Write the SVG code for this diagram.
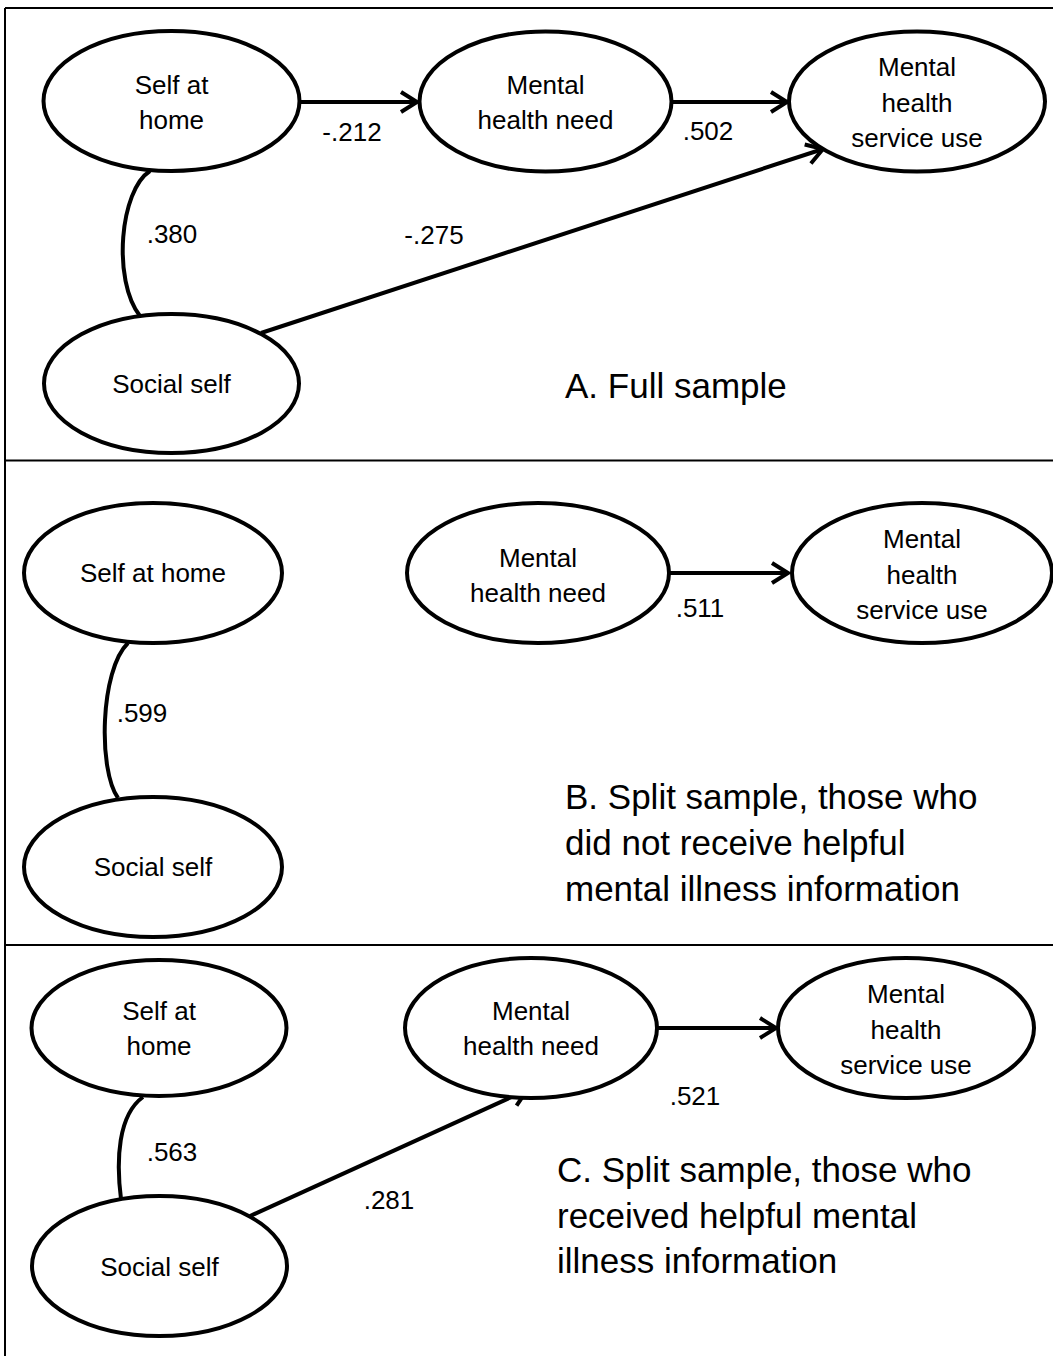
<svg xmlns="http://www.w3.org/2000/svg" width="1053" height="1356" viewBox="0 0 1053 1356">
<style>
.frame{stroke:#000;stroke-width:2;fill:none}
.node ellipse{fill:#fff;stroke:#000;stroke-width:4}
text{font-family:"Liberation Sans",Arial,sans-serif;fill:#000}
.lbl{font-size:26px;text-anchor:middle}
.num{font-size:26px;text-anchor:middle}
.title{font-size:35px}
.conn path,.conn line{stroke:#000;stroke-width:4;fill:none}
</style>
<defs>
<marker id="arr" markerUnits="userSpaceOnUse" markerWidth="24" markerHeight="26" refX="19" refY="12" orient="auto" viewBox="0 0 24 26">
<path d="M3,2 L19,12 L3,22" fill="none" stroke="#000" stroke-width="4"/>
</marker>
</defs>
<rect width="1053" height="1356" fill="#fff"/>
<g id="frame">
<line class="frame" x1="5" y1="8" x2="1053" y2="8"/>
<line class="frame" x1="5" y1="8" x2="5" y2="1356"/>
<line class="frame" x1="5" y1="460.5" x2="1053" y2="460.5"/>
<line class="frame" x1="5" y1="945" x2="1053" y2="945"/>
</g>
<g id="connectors" class="conn">
<line x1="300" y1="102" x2="417" y2="102" marker-end="url(#arr)"/>
<line x1="672" y1="102" x2="787" y2="102" marker-end="url(#arr)"/>
<line x1="261" y1="333" x2="823" y2="149" marker-end="url(#arr)"/>
<path d="M150,171 C120,190 112,280 140,316"/>
<path d="M128,643 C100,670 98,770 118,798"/>
<line x1="668" y1="573" x2="788" y2="573" marker-end="url(#arr)"/>
<path d="M143,1097 C118,1115 116,1160 121,1199"/>
<line x1="250" y1="1216" x2="527" y2="1090" marker-end="url(#arr)"/>
<line x1="658" y1="1028" x2="776" y2="1028" marker-end="url(#arr)"/>
</g>
<g id="labels">
<text class="num" x="352" y="141">-.212</text>
<text class="num" x="708" y="140">.502</text>
<text class="num" x="172" y="243">.380</text>
<text class="num" x="434" y="244">-.275</text>
<text class="num" x="700" y="617">.511</text>
<text class="num" x="142" y="722">.599</text>
<text class="num" x="172" y="1161">.563</text>
<text class="num" x="389" y="1209">.281</text>
<text class="num" x="695" y="1105">.521</text>
</g>
<g id="A-selfhome" class="node"><ellipse cx="171.5" cy="101" rx="128" ry="70"/><text class="lbl" x="171.5" y="94">Self at</text><text class="lbl" x="171.5" y="129">home</text></g>
<g id="A-need" class="node"><ellipse cx="545.5" cy="101.5" rx="126" ry="70"/><text class="lbl" x="545.5" y="94">Mental</text><text class="lbl" x="545.5" y="129">health need</text></g>
<g id="A-use" class="node"><ellipse cx="917" cy="101.5" rx="128" ry="70"/><text class="lbl" x="917" y="76">Mental</text><text class="lbl" x="917" y="112">health</text><text class="lbl" x="917" y="147">service use</text></g>
<g id="A-social" class="node"><ellipse cx="171.5" cy="383.5" rx="127.5" ry="69.5"/><text class="lbl" x="171.5" y="393">Social self</text></g>
<text class="title" x="565" y="398">A. Full sample</text>
<g id="B-selfhome" class="node"><ellipse cx="153" cy="573" rx="129" ry="70"/><text class="lbl" x="153" y="582">Self at home</text></g>
<g id="B-social" class="node"><ellipse cx="153" cy="867" rx="129" ry="70"/><text class="lbl" x="153" y="876">Social self</text></g>
<g id="B-need" class="node"><ellipse cx="538" cy="573" rx="131" ry="70"/><text class="lbl" x="538" y="567">Mental</text><text class="lbl" x="538" y="602">health need</text></g>
<g id="B-use" class="node"><ellipse cx="922" cy="573" rx="130" ry="70"/><text class="lbl" x="922" y="548">Mental</text><text class="lbl" x="922" y="584">health</text><text class="lbl" x="922" y="619">service use</text></g>
<text class="title" x="565" y="809">B. Split sample, those who</text>
<text class="title" x="565" y="855">did not receive helpful</text>
<text class="title" x="565" y="901">mental illness information</text>
<g id="C-selfhome" class="node"><ellipse cx="159" cy="1028" rx="127.5" ry="68"/><text class="lbl" x="159" y="1020">Self at</text><text class="lbl" x="159" y="1055">home</text></g>
<g id="C-social" class="node"><ellipse cx="159.5" cy="1266" rx="127.5" ry="70"/><text class="lbl" x="159.5" y="1276">Social self</text></g>
<g id="C-need" class="node"><ellipse cx="531" cy="1028" rx="126" ry="70"/><text class="lbl" x="531" y="1020">Mental</text><text class="lbl" x="531" y="1055">health need</text></g>
<g id="C-use" class="node"><ellipse cx="906" cy="1028" rx="128" ry="70"/><text class="lbl" x="906" y="1003">Mental</text><text class="lbl" x="906" y="1039">health</text><text class="lbl" x="906" y="1074">service use</text></g>
<text class="title" x="557" y="1182">C. Split sample, those who</text>
<text class="title" x="557" y="1228">received helpful mental</text>
<text class="title" x="557" y="1273">illness information</text>
</svg>
